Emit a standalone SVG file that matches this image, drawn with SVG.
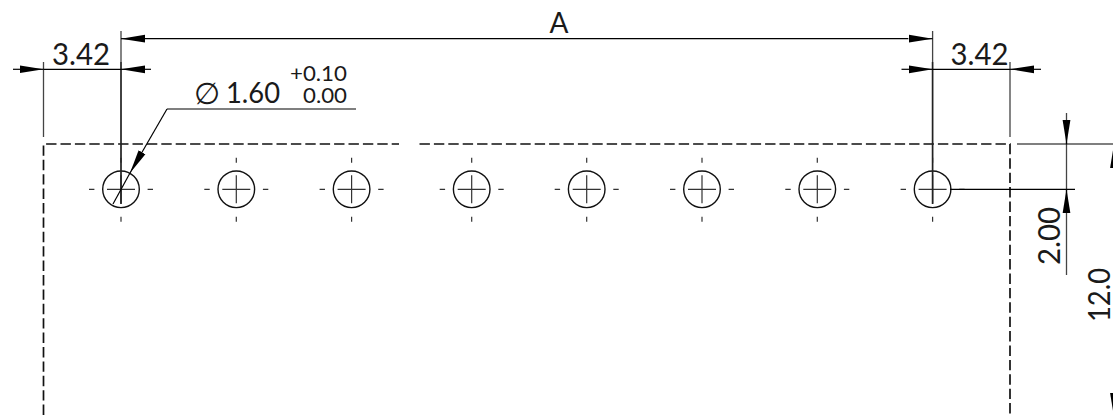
<svg xmlns="http://www.w3.org/2000/svg" width="1113" height="415" viewBox="0 0 1113 415">
<style>
.ln{stroke:#000;stroke-width:1.2;fill:none}
.ext{stroke:#444;stroke-width:1.3;fill:none}
.ext2{stroke:#222;stroke-width:1.7;fill:none}
.dash{stroke:#111;stroke-width:1.7;fill:none;stroke-dasharray:10.4 4}
.hole{stroke:#111;stroke-width:1.4;fill:none}
.cl{stroke:#333;stroke-width:1.2;fill:none}
text{font-family:"Lato","Liberation Sans",sans-serif;fill:#1a1a1a}
</style>
<defs>
<marker id="arr" markerUnits="userSpaceOnUse" markerWidth="26" markerHeight="10" viewBox="0 -5 26 10" refX="24" refY="0" orient="auto"><path d="M0,-3.9L24,0L0,3.9z" fill="#000"/></marker>
<g id="h">
<circle class="hole" r="18.3"/>
<path class="cl" d="M-14,0H14M0,-14V14M-32,0H-26.6M26.6,0H32M0,-31.6V-26.6M0,27.4V32.4"/>
</g>
</defs>
<g id="outline">
<path class="dash" d="M43.5,415V144H399"/>
<path class="dash" d="M419.5,144H1010V415"/>
</g>
<g id="hole-1"><use href="#h" x="121" y="189.3"/></g>
<g id="hole-2"><use href="#h" x="236.3" y="189.3"/></g>
<g id="hole-3"><use href="#h" x="351.6" y="189.3"/></g>
<g id="hole-4"><use href="#h" x="471.7" y="189.3"/></g>
<g id="hole-5"><use href="#h" x="586.7" y="189.3"/></g>
<g id="hole-6"><use href="#h" x="702" y="189.3"/></g>
<g id="hole-7"><use href="#h" x="817.3" y="189.3"/></g>
<g id="hole-8"><use href="#h" x="932.6" y="189.3"/></g>
<g id="connectors">
<path class="ext" d="M43.5,62V137M1010,62V137M121,31V62M932.6,31V62"/>
<path class="ext2" d="M121,62V204M932.6,62V204"/>
<path class="ext" d="M1066.5,113V275"/>
<line class="ln" x1="145" y1="38.7" x2="121" y2="38.7" marker-end="url(#arr)"/>
<line class="ln" x1="145" y1="38.7" x2="908" y2="38.7"/>
<line class="ln" x1="908.6" y1="38.7" x2="932.6" y2="38.7" marker-end="url(#arr)"/>
<line class="ln" x1="13" y1="69.3" x2="43.5" y2="69.3" marker-end="url(#arr)"/>
<line class="ln" x1="43.5" y1="69.3" x2="121" y2="69.3"/>
<line class="ln" x1="151" y1="69.3" x2="121" y2="69.3" marker-end="url(#arr)"/>
<line class="ln" x1="901.5" y1="69.3" x2="932.6" y2="69.3" marker-end="url(#arr)"/>
<line class="ln" x1="932.6" y1="69.3" x2="1010" y2="69.3"/>
<line class="ln" x1="1041" y1="69.3" x2="1010" y2="69.3" marker-end="url(#arr)"/>
<line class="ln" x1="1017" y1="144" x2="1113" y2="144"/>
<line class="ln" x1="950" y1="189.3" x2="1075" y2="189.3"/>
<line class="ln" x1="1066.5" y1="120" x2="1066.5" y2="144" marker-end="url(#arr)"/>
<line class="ln" x1="1066.5" y1="213" x2="1066.5" y2="189.3" marker-end="url(#arr)"/>
<line class="ln" x1="1114" y1="168" x2="1114" y2="144" marker-end="url(#arr)"/>
<line class="ln" x1="1114" y1="393" x2="1114" y2="417" marker-end="url(#arr)"/>
<path class="ln" d="M356,109H167"/>
<line class="ln" x1="167" y1="109" x2="130" y2="173" marker-end="url(#arr)"/>
<line class="ln" x1="130" y1="173" x2="113" y2="204"/>
</g>
<g id="labels">
<text x="52" y="64.5" font-size="30" textLength="58" lengthAdjust="spacingAndGlyphs">3.42</text>
<text x="950.5" y="64.5" font-size="30" textLength="58" lengthAdjust="spacingAndGlyphs">3.42</text>
<text x="559" y="33" font-size="28" text-anchor="middle">A</text>
<text x="194" y="104" font-size="30" style="font-family:'Liberation Sans',sans-serif">∅</text>
<text x="226" y="103" font-size="29" textLength="54" lengthAdjust="spacingAndGlyphs">1.60</text>
<text x="290" y="81" font-size="21" textLength="57" lengthAdjust="spacingAndGlyphs">+0.10</text>
<text x="303" y="103" font-size="21" textLength="44" lengthAdjust="spacingAndGlyphs">0.00</text>
<text transform="translate(1060,265) rotate(-90)" font-size="30" textLength="58" lengthAdjust="spacingAndGlyphs">2.00</text>
<text transform="translate(1110,322) rotate(-90)" font-size="30" textLength="54" lengthAdjust="spacingAndGlyphs">12.0</text>
</g>
</svg>
